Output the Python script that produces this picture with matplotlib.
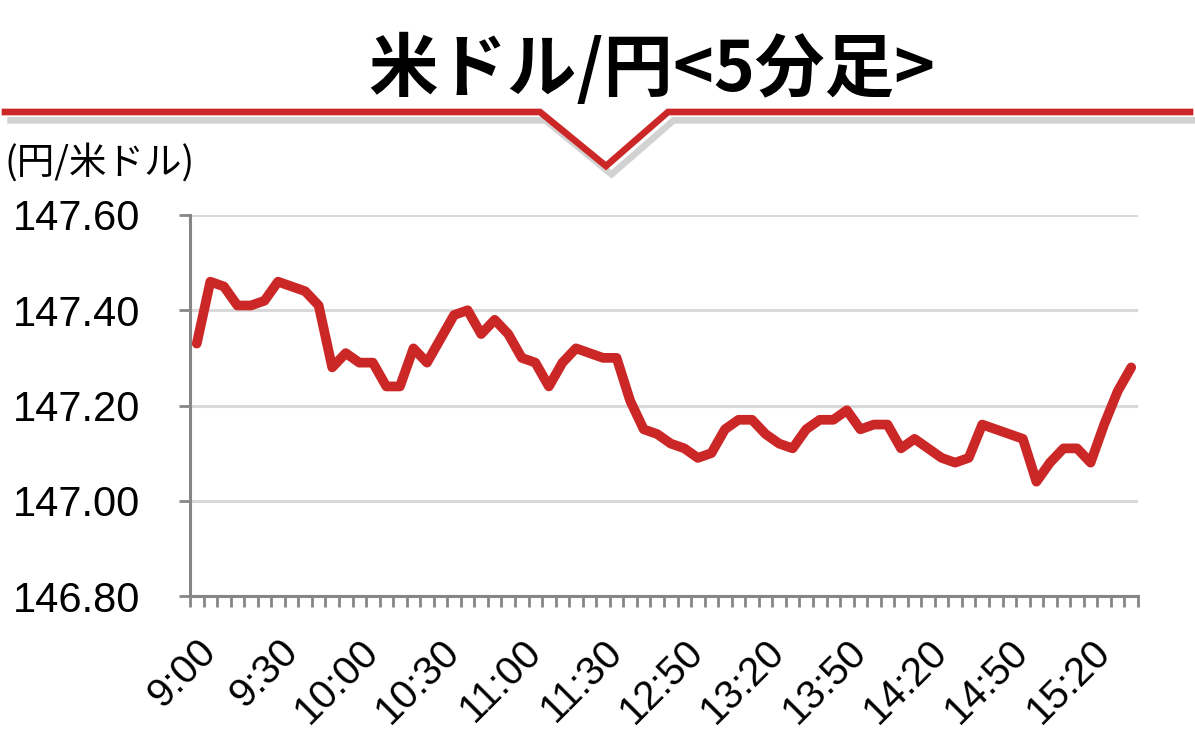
import matplotlib
matplotlib.use("Agg")
import matplotlib.pyplot as plt
import matplotlib.patheffects as pe
from matplotlib.lines import Line2D
import numpy as np

plt.rcParams['font.family'] = ['Liberation Sans', 'Noto Sans CJK JP', 'DejaVu Sans']

# 5-minute USD/JPY rate, 9:00 - 15:35 (lunch gap removed)
rate = [147.33, 147.46, 147.45, 147.41, 147.41, 147.42, 147.46, 147.45, 147.44, 147.41,
        147.28, 147.31, 147.29, 147.29, 147.24, 147.24, 147.32, 147.29, 147.34, 147.39,
        147.40, 147.35, 147.38, 147.35, 147.30, 147.29, 147.24, 147.29, 147.32, 147.31,
        147.30, 147.30, 147.21, 147.15, 147.14, 147.12, 147.11, 147.09, 147.10, 147.15,
        147.17, 147.17, 147.14, 147.12, 147.11, 147.15, 147.17, 147.17, 147.19, 147.15,
        147.16, 147.16, 147.11, 147.13, 147.11, 147.09, 147.08, 147.09, 147.16, 147.15,
        147.14, 147.13, 147.04, 147.08, 147.11, 147.11, 147.08, 147.16, 147.23, 147.28]
time_labels = ['9:00', '9:30', '10:00', '10:30', '11:00', '11:30',
               '12:50', '13:20', '13:50', '14:20', '14:50', '15:20']
label_step = 6
y_ticks = [146.80, 147.00, 147.20, 147.40, 147.60]

red = '#cc2727'
axis_gray = '#868686'

fig = plt.figure(figsize=(11.95, 7.51), dpi=100)
ax = fig.add_axes([190 / 1195, 1 - 596 / 751, 948 / 1195, 381 / 751])

x = np.arange(len(rate))
ax.plot(x, rate, color=red, lw=7, solid_joinstyle='round', solid_capstyle='round', zorder=3)

ax.set_xlim(-0.5, len(rate) - 0.5)
ax.set_ylim(y_ticks[0], y_ticks[-1])
ax.set_yticks(y_ticks)
ax.set_yticklabels([f'{v:.2f}' for v in y_ticks])
ax.yaxis.grid(True, color='#d9d9d9', lw=2.2)
ax.set_axisbelow(True)

ax.set_xticks(x[::label_step])
ax.set_xticklabels(time_labels, rotation=45, ha='right', va='top', rotation_mode='anchor')
ax.set_xticks(np.arange(-0.5, len(rate)), minor=True)
ax.tick_params(axis='x', which='major', length=0, pad=26, labelsize=29)
ax.tick_params(axis='x', which='minor', length=8, width=2, color=axis_gray, direction='out')
ax.tick_params(axis='y', length=8, width=2, color=axis_gray, pad=28, labelsize=30)

for s in ['top', 'right']:
    ax.spines[s].set_visible(False)
for s in ['left', 'bottom']:
    ax.spines[s].set_color(axis_gray)
    ax.spines[s].set_linewidth(2.2)

# title and header rule with the notch
fig.text(652 / 1195, 1 - 70 / 751, '米ドル/円<5分足>', ha='center', va='center',
         fontsize=50, fontweight='bold', family=['Noto Sans CJK JP'])
hx = np.array([5, 540, 606, 668, 1190]) / 1195
hy = 1 - np.array([112, 112, 166, 112, 112]) / 751
rule = Line2D(hx, hy, transform=fig.transFigure, color=red, lw=4.8, solid_joinstyle='miter',
              path_effects=[pe.SimpleLineShadow(offset=(4, -6), shadow_color='#909090', alpha=0.4),
                            pe.Normal()])
fig.add_artist(rule)

fig.text(5 / 1195, 1 - 163 / 751, '(円/米ドル)', ha='left', va='center', fontsize=27,
         family=['Noto Sans CJK JP'])

fig.savefig('out.png', dpi=100)
